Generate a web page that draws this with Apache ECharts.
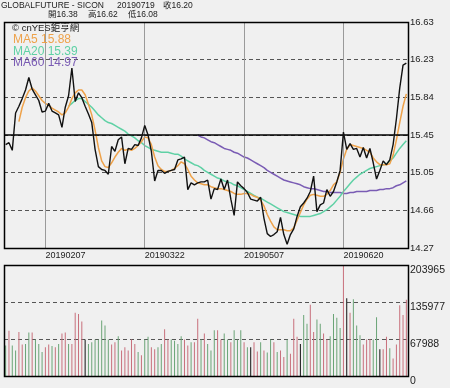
<!DOCTYPE html>
<html><head><meta charset="utf-8">
<script src="https://cdn.jsdelivr.net/npm/echarts@6/dist/echarts.min.js"></script>
<style>html,body{margin:0;padding:0;background:#f0f0f0}#c{width:450px;height:388px}</style>
</head><body><div id="c"></div>
<script>
// ---- data ----
const closePrices = [15.35,15.37,15.29,15.68,15.75,15.83,15.92,16.05,15.93,15.87,
15.81,15.69,15.70,15.78,15.70,15.68,15.66,15.53,15.74,15.86,
16.15,15.80,15.89,15.84,15.75,15.67,15.58,15.30,15.12,15.09,
15.08,15.04,15.33,15.28,15.40,15.43,15.15,15.31,15.30,15.35,
15.34,15.42,15.55,15.45,15.28,14.97,15.08,15.08,15.05,15.07,
15.08,15.09,15.19,15.20,15.22,14.88,14.95,14.93,14.95,14.96,
14.96,14.98,14.78,14.89,14.88,14.99,14.88,14.98,14.78,14.61,
14.96,14.92,14.89,14.85,14.78,14.77,14.76,14.80,14.58,14.42,
14.39,14.41,14.44,14.59,14.41,14.31,14.41,14.47,14.60,14.70,
14.74,14.79,14.86,15.02,14.65,14.72,14.74,14.88,14.81,14.86,
14.96,15.08,15.48,15.30,15.36,15.30,15.31,15.22,15.32,15.21,
15.31,15.16,14.99,15.08,15.18,15.14,15.19,15.35,15.62,15.94,
16.18,16.20];
const ma5 = [null,null,null,null,15.59,15.74,15.84,15.91,15.94,15.91,
15.86,15.81,15.78,15.76,15.73,15.71,15.69,15.66,15.68,15.74,
15.83,15.89,15.92,15.92,15.87,15.77,15.66,15.50,15.32,15.18,
15.12,15.11,15.16,15.22,15.27,15.31,15.29,15.30,15.29,15.31,
15.34,15.38,15.43,15.42,15.35,15.22,15.13,15.09,15.07,15.07,
15.08,15.10,15.13,15.17,15.15,15.09,15.02,14.98,14.95,14.94,
14.93,14.93,14.91,14.90,14.89,14.89,14.88,14.87,14.86,14.84,
14.83,14.83,14.84,14.84,14.83,14.81,14.80,14.77,14.71,14.62,
14.55,14.49,14.46,14.46,14.46,14.45,14.45,14.48,14.56,14.64,
14.72,14.78,14.82,14.83,14.82,14.81,14.81,14.83,14.87,14.93,
14.96,15.06,15.20,15.30,15.35,15.34,15.33,15.32,15.31,15.29,
15.27,15.21,15.17,15.14,15.14,15.14,15.15,15.24,15.40,15.58,
15.75,15.88];
const ma20 = [null,null,null,null,null,null,null,null,null,null,
null,null,null,null,null,null,null,null,null,15.75,
15.78,15.81,15.83,15.83,15.80,15.77,15.74,15.70,15.66,15.63,
15.60,15.58,15.57,15.55,15.53,15.51,15.49,15.46,15.44,15.42,
15.39,15.37,15.34,15.32,15.30,15.29,15.28,15.27,15.27,15.27,
15.26,15.25,15.25,15.23,15.20,15.18,15.16,15.14,15.13,15.11,
15.08,15.06,15.04,15.02,15.00,14.99,14.97,14.96,14.95,14.93,
14.92,14.90,14.88,14.86,14.84,14.82,14.80,14.79,14.77,14.75,
14.73,14.71,14.69,14.67,14.65,14.64,14.63,14.62,14.61,14.60,
14.60,14.60,14.60,14.61,14.62,14.63,14.65,14.67,14.70,14.73,
14.77,14.81,14.86,14.90,14.94,14.98,15.01,15.04,15.06,15.08,
15.10,15.11,15.12,15.13,15.14,15.15,15.18,15.21,15.26,15.31,
15.35,15.39];
const ma60 = [null,null,null,null,null,null,null,null,null,null,
null,null,null,null,null,null,null,null,null,null,
null,null,null,null,null,null,null,null,null,null,
null,null,null,null,null,null,null,null,null,null,
null,null,null,null,null,null,null,null,null,null,
null,null,null,null,null,null,null,null,15.45,15.43,
15.42,15.40,15.38,15.37,15.35,15.33,15.31,15.30,15.29,15.27,
15.26,15.24,15.22,15.21,15.19,15.17,15.15,15.13,15.11,15.08,
15.06,15.04,15.02,15.00,14.98,14.97,14.96,14.95,14.94,14.93,
14.91,14.90,14.89,14.89,14.88,14.87,14.86,14.86,14.85,14.85,
14.85,14.85,14.84,14.84,14.85,14.85,14.86,14.86,14.86,14.86,
14.87,14.87,14.87,14.88,14.88,14.89,14.89,14.90,14.92,14.93,
14.95,14.97];
const volume = [56000,83000,56000,47000,81000,58000,59000,80000,80000,67000,
59000,44000,53000,58000,55000,53000,59000,78000,80000,59000,
59000,116000,114000,100000,67000,59000,62000,67000,67000,102000,
93000,67000,58000,62000,73000,47000,53000,47000,67000,59000,
44000,38000,67000,72000,53000,49000,53000,59000,86000,67000,
67000,65000,59000,73000,67000,56000,62000,62000,105000,67000,
78000,59000,47000,84000,84000,67000,78000,67000,62000,84000,
67000,84000,62000,53000,53000,62000,45000,62000,47000,43000,
67000,62000,44000,47000,35000,67000,41000,105000,72000,59000,
112000,96000,131000,81000,104000,96000,78000,67000,73000,114000,
107000,88000,203965,143000,116000,141000,93000,75000,58000,67000,
68000,67000,108000,49000,49000,72000,51000,32000,58000,130000,
112000,140000];
// bar colour code: r = up, g = down, k = black
const volumeColorCode = ('grggrrggrggg' + 'rrgrgrrgrrrrkggggggg' + 'rrgrrrrrgrggrrggrrggggrrgrr' +
  'grgggrrggrgggrgkrrgrggrgrrgrrrk' + 'ggrrggrrggggrk' + 'rgggrrrggkrrgrrrrr').split('');
const xTicks = [[12,'20190207'],[42,'20190322'],[72,'20190507'],[102,'20190620']];
const priceTicks = ['14.27','14.66','15.05','15.45','15.84','16.23','16.63'];
const volumeTicks = ['0','67988','135977','203965'];
const midLine = 15.45;
const header = {name:'GLOBALFUTURE - SICON', date:'20190719', close:'收16.20', open:'開16.38', high:'高16.62', low:'低16.08'};
const legendLines = [['MA5','15.88'],['MA20','15.39'],['MA60','14.97']];

// ---- chart ----
const colors = {close:'#111111', ma5:'#eea24a', ma20:'#5fd1a5', ma60:'#7a5cb4'};
const volColors = {r:'#c8707c', g:'#6aa476', k:'#111111'};
const categories = closePrices.map((_, i) => String(i));
const tickMap = Object.fromEntries(xTicks);
const pMin = +priceTicks[0], pMax = +priceTicks[priceTicks.length-1];
const pStep = (pMax - pMin) / (priceTicks.length - 1);
const vMax = +volumeTicks[volumeTicks.length-1];
const vStep = vMax / (volumeTicks.length - 1);
const FONT = '"Liberation Sans", Arial, "Noto Sans CJK TC", sans-serif';

const chart = echarts.init(document.getElementById('c'), null, {renderer:'canvas'});
const G0 = {left:4, top:22, width:404, height:226};
const G1 = {left:4, top:265, width:404, height:111};

const gridLineSeries = {
  type:'line', xAxisIndex:0, yAxisIndex:0, data: closePrices, z:1, silent:true,
  symbol:'none', lineStyle:{opacity:0}, itemStyle:{opacity:0},
  markLine:{silent:true, symbol:['none','none'], label:{show:false}, animation:false,
    data:[
      ...xTicks.map(([i]) => ({xAxis: i, lineStyle:{color:'#9a9a9a', type:'solid', width:1}})),
      {yAxis: midLine, lineStyle:{color:'#000', type:'solid', width:1.6}}
    ]}
};

const option = {
  backgroundColor:'#f0f0f0',
  animation:false,
  textStyle:{fontFamily:FONT},
  grid:[
    {left:G0.left, top:G0.top, width:G0.width, height:G0.height, show:false},
    {left:G1.left, top:G1.top, width:G1.width, height:G1.height, show:false}
  ],
  xAxis:[
    {type:'category', gridIndex:0, data:categories, boundaryGap:true,
     axisLine:{show:false}, axisTick:{show:false}, splitLine:{show:false},
     axisLabel:{interval:(i) => tickMap[i] !== undefined, formatter:(v, i) => tickMap[i] || '',
       margin:3, fontSize:9, color:'#222', align:'left', fontFamily:FONT}},
    {type:'category', gridIndex:1, data:categories, boundaryGap:true,
     axisLine:{show:false}, axisTick:{show:false}, splitLine:{show:false}, axisLabel:{show:false}}
  ],
  yAxis:[
    {type:'value', gridIndex:0, position:'right', min:pMin, max:pMax, interval:pStep,
     axisLine:{show:false}, axisTick:{show:false},
     axisLabel:{margin:2, fontSize:9.5, color:'#222', fontFamily:FONT,
       formatter:(v) => priceTicks[Math.round((v - pMin)/pStep)] || ''},
     splitLine:{show:true, lineStyle:{color:'#555', type:[4,3], width:1.2}}},
    {type:'value', gridIndex:1, position:'right', min:0, max:vMax, interval:vStep,
     axisLine:{show:false}, axisTick:{show:false},
     axisLabel:{margin:2, fontSize:10.5, color:'#222', verticalAlign:'top', fontFamily:FONT,
       formatter:(v) => volumeTicks[Math.round(v / vStep)] || ''},
     splitLine:{show:true, lineStyle:{color:'#555', type:[4,3], width:1.2}}}
  ],
  series:[
    gridLineSeries,
    {name:'MA60', type:'line', xAxisIndex:0, yAxisIndex:0, data:ma60, symbol:'none', z:3,
     lineStyle:{color:colors.ma60, width:1.5}},
    {name:'MA20', type:'line', xAxisIndex:0, yAxisIndex:0, data:ma20, symbol:'none', z:3,
     lineStyle:{color:colors.ma20, width:1.5}},
    {name:'MA5', type:'line', xAxisIndex:0, yAxisIndex:0, data:ma5, symbol:'none', z:4,
     lineStyle:{color:colors.ma5, width:1.5}},
    {name:'Close', type:'line', xAxisIndex:0, yAxisIndex:0, data:closePrices, symbol:'none', z:5,
     lineStyle:{color:colors.close, width:1.4}},
    {name:'Volume', type:'bar', xAxisIndex:1, yAxisIndex:1, barWidth:1, z:3,
     data: volume.map((v, i) => ({value:v, itemStyle:{color: volColors[volumeColorCode[i]] || volColors.g}}))}
  ],
  graphic:[
    {type:'rect', z:100, silent:true, shape:{x:G0.left+0.5, y:G0.top+0.5, width:G0.width, height:G0.height},
     style:{fill:'none', stroke:'#000', lineWidth:1.5}},
    {type:'rect', z:100, silent:true, shape:{x:G1.left+0.5, y:G1.top+0.5, width:G1.width, height:G1.height},
     style:{fill:'none', stroke:'#000', lineWidth:1.5}},
    {type:'text', z:100, x:1, y:1, style:{text:header.name, font:'8.5px '+FONT, fill:'#222'}},
    {type:'text', z:100, x:117, y:1, style:{text:header.date, font:'8.5px '+FONT, fill:'#222'}},
    {type:'text', z:100, x:163, y:1, style:{text:header.close, font:'8.5px '+FONT, fill:'#222'}},
    {type:'text', z:100, x:48, y:10, style:{text:header.open, font:'8.5px '+FONT, fill:'#222'}},
    {type:'text', z:100, x:88, y:10, style:{text:header.high, font:'8.5px '+FONT, fill:'#222'}},
    {type:'text', z:100, x:128, y:10, style:{text:header.low, font:'8.5px '+FONT, fill:'#222'}},
    {type:'text', z:100, x:12, y:24, style:{text:'© cnYES鉅亨網', font:'9.5px '+FONT, fill:'#222'}},
    ...legendLines.map(([n, v], k) => ({type:'text', z:100, x:13, y:34 + k*11.5,
      style:{text:n + ' ' + v, font:'12px '+FONT, fill:[colors.ma5, colors.ma20, colors.ma60][k]}}))
  ]
};
chart.setOption(option);
</script></body></html>
